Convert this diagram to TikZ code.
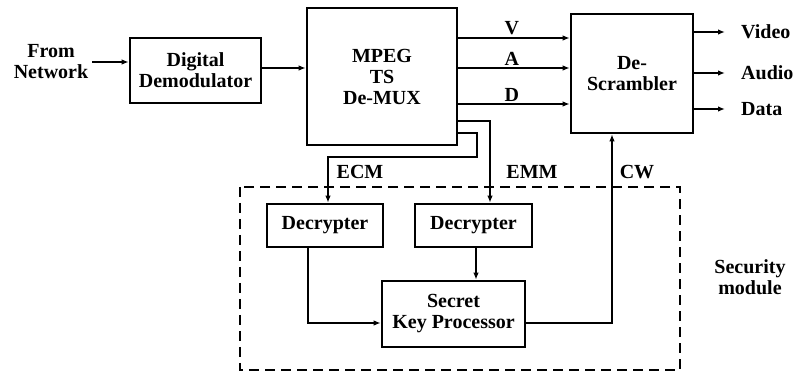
\documentclass[tikz,border=0pt]{standalone}
\usepackage{fontspec}
\setmainfont{Liberation Serif}
\usetikzlibrary{arrows.meta}
\begin{document}
\begin{tikzpicture}[x=1pt,y=-1pt,
  every node/.style={font=\bfseries\fontsize{20}{21}\selectfont, align=center, inner sep=0pt},
  blk/.style={draw, line width=2.6pt},
  wire/.style={line width=1.8pt},
  arr/.style={wire, -{Latex[length=7pt,width=5.5pt]}},
  secbox/.style={line width=2.8pt, dash pattern=on 10pt off 6pt}]
\useasboundingbox (0,0) rectangle (796,374);

% main blocks
\node[blk, minimum width=131pt, minimum height=65pt] (demod) at (195.5,70.5) {Digital\\Demodulator};
\node[blk, minimum width=150pt, minimum height=137pt] (mux) at (382,76.5) {MPEG\\TS\\De-MUX};
\node[blk, minimum width=122pt, minimum height=119pt] (descr) at (632,73.5) {De-\\Scrambler};

% security module blocks
\node[blk, minimum width=116pt, minimum height=43pt] (dec1) at (325,225.5) {Decrypter};
\node[blk, minimum width=117pt, minimum height=43pt] (dec2) at (473.5,225.5) {Decrypter};
\node[blk, minimum width=143pt, minimum height=66pt] (skp) at (453.5,314) {Secret\\Key Processor};
\draw[secbox] (240,187) rectangle (680,370);

% free text
\node (net) at (51,62) {From\\Network};
\node (sec) at (750,277) {Security\\module};
\coordinate (src) at (92,62);

% input chain
\draw[arr] (src) -- (src -| demod.west);
\draw[arr] (demod.east |- {(0,68)}) -- (mux.west |- {(0,68)});

% V / A / D streams
\draw[arr] (mux.east |- {(0,38)}) -- (descr.west |- {(0,38)}) node[pos=0.48, above=2pt] (lv) {V};
\draw[arr] (mux.east |- {(0,68)}) -- (descr.west |- {(0,68)}) node[pos=0.48, above=2pt] (la) {A};
\draw[arr] (mux.east |- {(0,104)}) -- (descr.west |- {(0,104)}) node[pos=0.48, above=2pt] (ld) {D};

% outputs
\coordinate (ov) at (725,32);
\coordinate (oa) at (725,73);
\coordinate (od) at (725,109);
\draw[arr] (descr.east |- ov) -- (ov);
\draw[arr] (descr.east |- oa) -- (oa);
\draw[arr] (descr.east |- od) -- (od);
\node[anchor=west] (tv) at (741,32) {Video};
\node[anchor=west] (ta) at (741,73) {Audio};
\node[anchor=west] (td) at (741,109) {Data};

% ECM and EMM paths
\draw[arr] (mux.east |- {(0,133)}) -- (477,133) -- (477,157) -- (328,157) -- (328,0 |- dec1.north);
\draw[arr] (mux.east |- {(0,121)}) -- (490,121) -- (490,0 |- dec2.north);
\node (lecm) at (360,172) {ECM};
\node (lemm) at (532,172) {EMM};
\node (lcw) at (637,172) {CW};

% decrypters to key processor
\draw[arr] (308,0 |- dec1.south) -- (308,323) -- (skp.west |- {(0,323)});
\draw[arr] (476,0 |- dec2.south) -- (476,0 |- skp.north);

% control word back to the descrambler
\draw[arr] (skp.east |- {(0,323)}) -- (612,323) -- (612,0 |- descr.south);
\end{tikzpicture}
\end{document}
